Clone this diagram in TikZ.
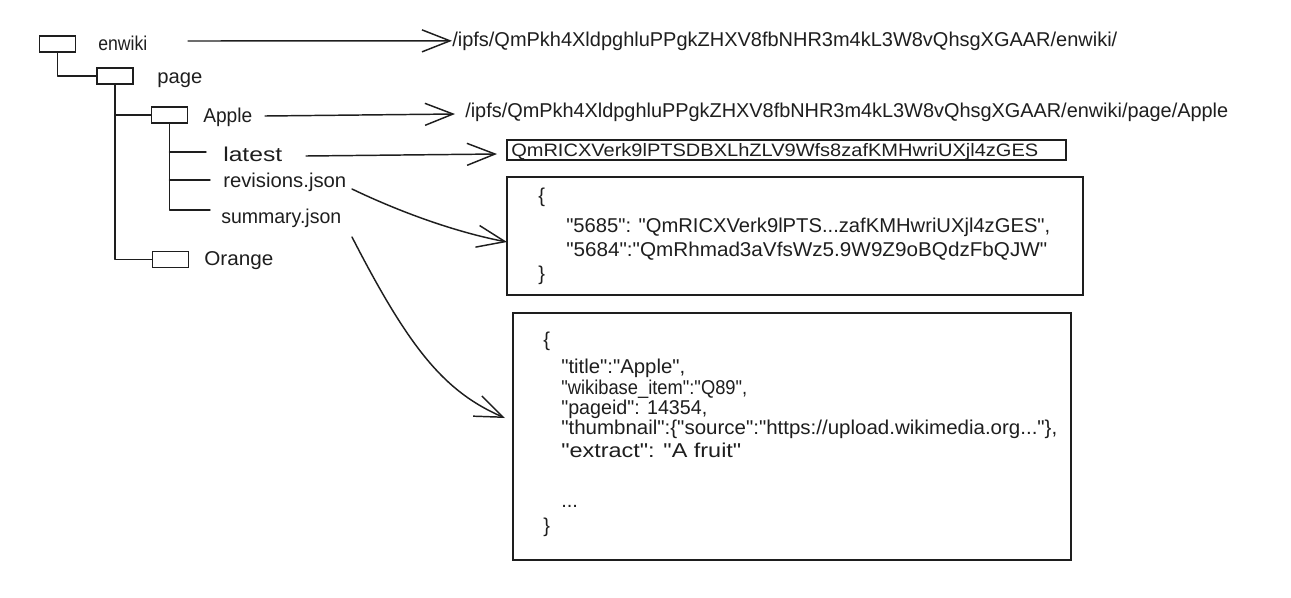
\documentclass[tikz,border=0pt]{standalone}
\usepackage{fontspec}
\setmainfont{Liberation Sans}
\newfontfamily\handfont{Liberation Sans}
\usetikzlibrary{arrows.meta}
\definecolor{ink}{HTML}{1E1E1E}
\newlength\pxu
\setlength\pxu{0.75pt}
\newcommand\fitw[2]{\resizebox{#1\pxu}{\height}{#2}}
\newcommand\dq{\XeTeXglyph\XeTeXcharglyph"22 }
\tikzset{
  ln/.style={draw=ink, line width=1.1pt, line cap=round, line join=round},
  treebox/.style={draw=ink, line width=1.1pt, minimum width=27pt, minimum height=12pt, inner sep=0pt},
  lbl/.style={anchor=base west, inner sep=0pt, font=\handfont\fontsize{15pt}{18pt}\selectfont, text=ink},
  smalllbl/.style={lbl, font=\handfont\fontsize{13.5pt}{16pt}\selectfont},
  arr/.style={ln, -{Straight Barb[length=21pt, width=16.5pt, line width=1.1pt]}},
  jbox/.style={draw=ink, line width=1.2pt, inner sep=0pt},
}
\begin{document}
\begin{tikzpicture}[x=0.75pt, y=-0.75pt]
\useasboundingbox (0,0) rectangle (1291,597);

% tree boxes
\node[treebox] (bxEnwiki) at (57.5,44) {};
\node[treebox] (bxPage) at (115,76) {};
\node[treebox] (bxApple) at (169.5,115) {};
\node[treebox] (bxOrange) at (170.5,259.5) {};

% tree labels
\node[lbl] (lEnwiki) at (98,50) {\fitw{49}{enwiki}};
\node[lbl] (lPage) at (157,83) {\fitw{45}{page}};
\node[lbl] (lApple) at (203,122) {\fitw{49}{Apple}};
\node[lbl] (lLatest) at (223,161) {\fitw{59}{latest}};
\node[lbl] (lRev) at (223,187) {\fitw{123}{revisions.json}};
\node[lbl] (lSum) at (221,223) {\fitw{120}{summary.json}};
\node[lbl] (lOrange) at (204,265) {\fitw{69}{Orange}};

% tree connectors
\coordinate (hL) at (206,152);
\coordinate (hR) at (210,180);
\coordinate (hS) at (210,210);
\draw[ln] (bxEnwiki.south) |- (bxPage.west);
\draw[ln] (bxPage.south) |- (bxOrange.west);
\draw[ln] (bxPage.south |- bxApple.west) -- (bxApple.west);
\draw[ln] (bxApple.south) |- (hS);
\draw[ln] (bxApple.south |- hL) -- (hL);
\draw[ln] (bxApple.south |- hR) -- (hR);

% paths
\node[lbl] (hash1) at (452,46) {\fitw{665}{/ipfs/QmPkh4XldpghluPPgkZHXV8fbNHR3m4kL3W8vQhsgXGAAR/enwiki/}};
\node[lbl] (hash2) at (465,117) {\fitw{763}{/ipfs/QmPkh4XldpghluPPgkZHXV8fbNHR3m4kL3W8vQhsgXGAAR/enwiki/page/Apple}};

% latest box
\node[jbox, line width=0.9pt, minimum width=419.25pt, minimum height=15pt] (latestbox) at (786.5,150) {};
\node[smalllbl] (hash3) at (511,156) {\fitw{527}{QmRICXVerk9lPTSDBXLhZLV9Wfs8zafKMHwriUXjl4zGES}};

% revisions box
\node[jbox, minimum width=432pt, minimum height=88.5pt] (revbox) at (795,236) {};
\node[lbl] (r0) at (538,202) {\{};
\node[lbl] (r1) at (566,232) {\fitw{484}{\dq5685\dq: \dq QmRICXVerk9lPTS...zafKMHwriUXjl4zGES\dq,}};
\node[lbl] (r2) at (566,256) {\fitw{481}{\dq5684\dq:\dq QmRhmad3aVfsWz5.9W9Z9oBQdzFbQJW\dq}};
\node[lbl] (r3) at (538,280) {\}};

% summary box
\node[jbox, minimum width=418.5pt, minimum height=185.25pt] (sumbox) at (792,436.5) {};
\node[lbl] (s0) at (543,346) {\{};
\node[lbl] (s1) at (561,373) {\fitw{124}{\dq title\dq:\dq Apple\dq,}};
\node[lbl] (s2) at (561,394) {\fitw{186}{\dq wikibase\_item\dq:\dq Q89\dq,}};
\node[lbl] (s3) at (561,414) {\fitw{146}{\dq pageid\dq: 14354,}};
\node[lbl] (s4) at (561,434) {\fitw{496}{\dq thumbnail\dq:\{\dq source\dq:\dq https://upload.wikimedia.org...\dq\},}};
\node[lbl] (s5) at (561,457) {\fitw{180}{\dq extract\dq: \dq A fruit\dq}};
\node[lbl] (s6) at (561,507) {...};
\node[lbl] (s7) at (543,532) {\}};

% arrows
\coordinate (a1s) at (188,41);
\coordinate (a2s) at (265,116);
\coordinate (a2e) at (455,114);
\coordinate (a3s) at (306,156);
\coordinate (a3e) at (497,154);
\coordinate (a4s) at (352,189);
\coordinate (a4e) at (507,242);
\coordinate (a5s) at (352,237);
\coordinate (a5e) at (505,418);
\draw[arr] (a1s) -- (hash1.west);
\draw[arr] (a2s) -- (a2e);
\draw[arr] (a3s) -- (a3e);
\draw[arr] (a4s) .. controls (400,212) and (455,232) .. (a4e);
\draw[arr] (a5s) .. controls (410,350) and (445,392) .. (a5e);
\end{tikzpicture}
\end{document}
